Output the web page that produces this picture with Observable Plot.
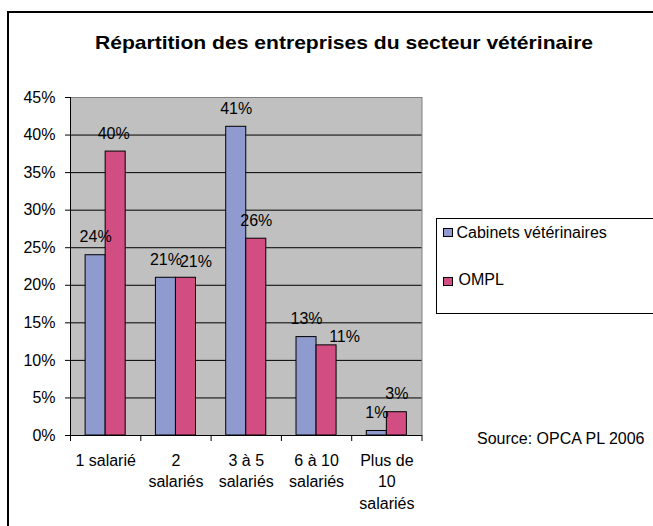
<!DOCTYPE html>
<html><head><meta charset="utf-8">
<script src="https://cdn.jsdelivr.net/npm/d3@7"></script>
<script src="https://cdn.jsdelivr.net/npm/@observablehq/plot@0.6"></script>
<style>
html,body{margin:0;padding:0;background:#fff;overflow:hidden;width:653px;height:526px}
#wrap{position:relative;width:653px;height:526px;overflow:hidden;font-family:"Liberation Sans",Arial,sans-serif;color:#000}
#chart svg{position:absolute;left:0;top:0}
.border{position:absolute;left:7px;top:11px;width:800px;height:800px;border-left:2px solid #000;border-top:2px solid #000;pointer-events:none}
.title{position:absolute;left:343.7px;top:33px;font-weight:bold;font-size:19px;line-height:19px;white-space:nowrap;transform:translateX(-50%) scaleX(1.11);}
.legend{position:absolute;left:435.5px;top:218px;width:260px;height:94px;border:1px solid #000;}
.item{position:absolute;font-size:16px;line-height:16px;white-space:nowrap}
.sw{position:absolute;width:8px;height:7px;border:1px solid #000}
.source{position:absolute;left:477px;top:430.5px;font-size:16px;line-height:16px;white-space:nowrap}
</style></head>
<body><div id="wrap"><div id="chart"></div></div>
<script>
const categories = ["1 salarié", "2 salariés", "3 à 5 salariés", "6 à 10 salariés", "Plus de 10 salariés"];
const xTickLabels = ["1 salarié", "2\nsalariés", "3 à 5\nsalariés", "6 à 10\nsalariés", "Plus de\n10\nsalariés"];
const seriesNames = ["Cabinets vétérinaires", "OMPL"];
const cabinets = [24, 21, 41.1, 13.1, 0.6];
const ompl = [37.8, 21, 26.2, 12, 3.1];
const cabinetsLabels = ["24%", "21%", "41%", "13%", "1%"];
const omplLabels = ["40%", "21%", "26%", "11%", "3%"];
const yTicks = [0, 5, 10, 15, 20, 25, 30, 35, 40, 45];
const titleText = "Répartition des entreprises du secteur vétérinaire";
const sourceText = "Source: OPCA PL 2006";
const colors = ["#8f9bcf", "#d24e82"];

// layout helpers (not data)
const barStart = 0.215, barWidth = 0.285;
const labelNudge = { "OMPL|2 salariés": [10, 2.5], "OMPL|6 à 10 salariés": [18, 9.5], "OMPL|1 salarié": [-2, 0] };

const rows = [];
categories.forEach((c, i) => {
  [cabinets, ompl].forEach((vals, s) => {
    rows.push({
      i, category: c, series: seriesNames[s], value: vals[i],
      label: (s === 0 ? cabinetsLabels : omplLabels)[i],
      x1: i + barStart + s * barWidth, x2: i + barStart + (s + 1) * barWidth
    });
  });
});

const labelMarks = rows.map(r => {
  const n = labelNudge[r.series + "|" + r.category] || [0, 0];
  return Plot.text([r], {
    x: d => (d.x1 + d.x2) / 2, y: "value", text: "label",
    dx: n[0], dy: -18 + n[1], lineAnchor: "middle", fontSize: 16, fill: "#000"
  });
});

const chart = Plot.plot({
  width: 653, height: 526,
  marginLeft: 70, marginRight: 231.5, marginTop: 97, marginBottom: 91,
  style: { fontFamily: "'Liberation Sans', Arial, sans-serif", fontSize: "16px", color: "#000", background: "transparent" },
  x: { type: "linear", domain: [0, categories.length] },
  y: { domain: [0, 45] },
  color: { domain: seriesNames, range: colors },
  marks: [
    Plot.frame({ fill: "#c0c0c0", stroke: "#808080" }),
    Plot.gridY({ ticks: yTicks.slice(1, -1), stroke: "#000", strokeOpacity: 1 }),
    Plot.rect(rows, { x1: "x1", x2: "x2", y1: () => 0, y2: "value", fill: "series", stroke: "#000", strokeWidth: 1 }),
    Plot.ruleY([0], { stroke: "#000" }),
    Plot.ruleX([0], { stroke: "#000" }),
    Plot.axisY({ ticks: yTicks, tickFormat: d => d + "%", tickSize: 5, tickPadding: 10, fontSize: 16, label: null, stroke: "#000" }),
    Plot.axisX({ ticks: d3.range(categories.length + 1), tickSize: 6, tickFormat: () => "", label: null, stroke: "#000" }),
    Plot.axisX({ ticks: categories.map((c, i) => i + 0.5), tickSize: 0, tickPadding: 15, lineHeight: 1.34,
      tickFormat: v => xTickLabels[Math.floor(v)], fontSize: 16, label: null }),
    ...labelMarks
  ]
});

const wrap = document.getElementById("wrap");
document.getElementById("chart").appendChild(chart);

const border = document.createElement("div"); border.className = "border"; wrap.appendChild(border);
const title = document.createElement("div"); title.className = "title"; title.textContent = titleText; wrap.appendChild(title);

const legend = document.createElement("div"); legend.className = "legend"; wrap.appendChild(legend);
const itemPos = [{ sw: [6, 9], tx: [20, 6] }, { sw: [6, 58], tx: [22, 52.5] }];
seriesNames.forEach((name, k) => {
  const sw = document.createElement("div"); sw.className = "sw";
  sw.style.left = itemPos[k].sw[0] + "px"; sw.style.top = itemPos[k].sw[1] + "px"; sw.style.background = colors[k];
  legend.appendChild(sw);
  const t = document.createElement("div"); t.className = "item";
  t.style.left = itemPos[k].tx[0] + "px"; t.style.top = itemPos[k].tx[1] + "px"; t.textContent = name;
  legend.appendChild(t);
});

const src = document.createElement("div"); src.className = "source"; src.textContent = sourceText; wrap.appendChild(src);
</script>
</body></html>
